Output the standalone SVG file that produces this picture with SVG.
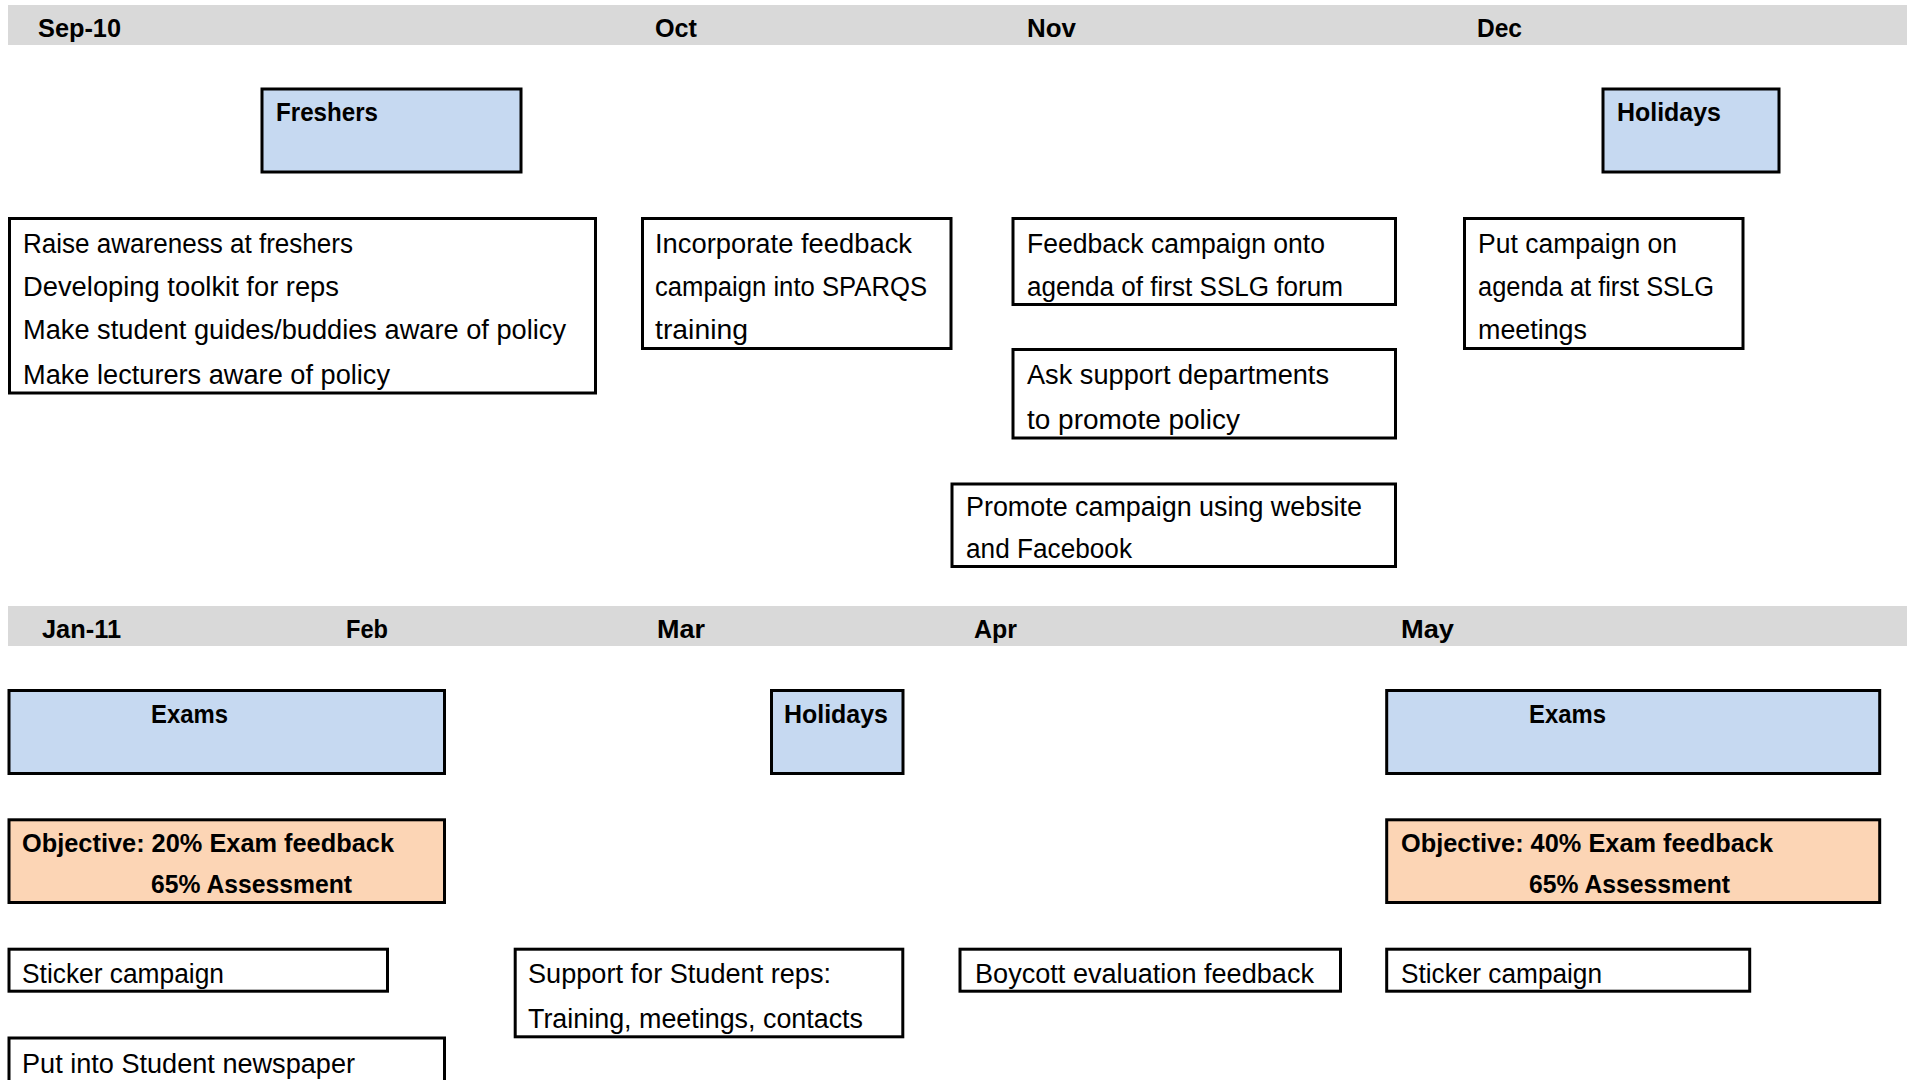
<svg xmlns="http://www.w3.org/2000/svg" width="1907" height="1080" viewBox="0 0 1907 1080">
<style>
.band{fill:#d9d9d9}
.box{fill:#ffffff;stroke:#000;stroke-width:3}
.blue{fill:#c6d9f1;stroke:#000;stroke-width:3}
.orange{fill:#fcd5b5;stroke:#000;stroke-width:3}
text{font-family:"Liberation Sans",Arial,sans-serif;fill:#000}
.t{font-size:27px}
.b{font-size:26px;font-weight:bold}
</style>
<rect width="1907" height="1080" fill="#ffffff"/>
<g id="timeline-top">
<rect class="band" x="8" y="5" width="1899" height="40"/>
<text class="b" x="38" y="37" textLength="83" lengthAdjust="spacingAndGlyphs">Sep-10</text>
<text class="b" x="655" y="37" textLength="42" lengthAdjust="spacingAndGlyphs">Oct</text>
<text class="b" x="1027" y="37" textLength="49" lengthAdjust="spacingAndGlyphs">Nov</text>
<text class="b" x="1477" y="37" textLength="45" lengthAdjust="spacingAndGlyphs">Dec</text>
</g>
<g id="timeline-bottom">
<rect class="band" x="8" y="606" width="1899" height="40"/>
<text class="b" x="42" y="638" textLength="79" lengthAdjust="spacingAndGlyphs">Jan-11</text>
<text class="b" x="346" y="638" textLength="42" lengthAdjust="spacingAndGlyphs">Feb</text>
<text class="b" x="657" y="638" textLength="48" lengthAdjust="spacingAndGlyphs">Mar</text>
<text class="b" x="974" y="638" textLength="43" lengthAdjust="spacingAndGlyphs">Apr</text>
<text class="b" x="1401" y="638" textLength="53" lengthAdjust="spacingAndGlyphs">May</text>
</g>
<g id="freshers">
<rect class="blue" x="262" y="89" width="259" height="83"/>
<text class="b" x="276" y="121" textLength="102" lengthAdjust="spacingAndGlyphs">Freshers</text>
</g>
<g id="holidays-dec">
<rect class="blue" x="1603" y="89" width="176" height="83"/>
<text class="b" x="1617" y="121" textLength="104" lengthAdjust="spacingAndGlyphs">Holidays</text>
</g>
<g id="sep-actions">
<rect class="box" x="9.5" y="218.5" width="586" height="174.5"/>
<text class="t" x="23" y="253" textLength="330" lengthAdjust="spacingAndGlyphs">Raise awareness at freshers</text>
<text class="t" x="23" y="296" textLength="316" lengthAdjust="spacingAndGlyphs">Developing toolkit for reps</text>
<text class="t" x="23" y="339" textLength="543" lengthAdjust="spacingAndGlyphs">Make student guides/buddies aware of policy</text>
<text class="t" x="23" y="384" textLength="367" lengthAdjust="spacingAndGlyphs">Make lecturers aware of policy</text>
</g>
<g id="oct-sparqs">
<rect class="box" x="642.5" y="218.5" width="308.5" height="130"/>
<text class="t" x="655" y="253" textLength="257" lengthAdjust="spacingAndGlyphs">Incorporate feedback</text>
<text class="t" x="655" y="296" textLength="272" lengthAdjust="spacingAndGlyphs">campaign into SPARQS</text>
<text class="t" x="655" y="339" textLength="93" lengthAdjust="spacingAndGlyphs">training</text>
</g>
<g id="nov-sslg-forum">
<rect class="box" x="1013" y="218.5" width="382.5" height="86"/>
<text class="t" x="1027" y="253" textLength="298" lengthAdjust="spacingAndGlyphs">Feedback campaign onto</text>
<text class="t" x="1027" y="296" textLength="316" lengthAdjust="spacingAndGlyphs">agenda of first SSLG forum</text>
</g>
<g id="nov-support-depts">
<rect class="box" x="1013" y="349.5" width="382.5" height="88.5"/>
<text class="t" x="1027" y="384" textLength="302" lengthAdjust="spacingAndGlyphs">Ask support departments</text>
<text class="t" x="1027" y="429" textLength="213" lengthAdjust="spacingAndGlyphs">to promote policy</text>
</g>
<g id="nov-website">
<rect class="box" x="952" y="484" width="443.5" height="82.5"/>
<text class="t" x="966" y="516" textLength="396" lengthAdjust="spacingAndGlyphs">Promote campaign using website</text>
<text class="t" x="966" y="558" textLength="166" lengthAdjust="spacingAndGlyphs">and Facebook</text>
</g>
<g id="dec-sslg-meetings">
<rect class="box" x="1464.5" y="218.5" width="278.5" height="130"/>
<text class="t" x="1478" y="253" textLength="199" lengthAdjust="spacingAndGlyphs">Put campaign on</text>
<text class="t" x="1478" y="296" textLength="236" lengthAdjust="spacingAndGlyphs">agenda at first SSLG</text>
<text class="t" x="1478" y="339" textLength="109" lengthAdjust="spacingAndGlyphs">meetings</text>
</g>
<g id="exams-jan">
<rect class="blue" x="9" y="690.5" width="435.5" height="83"/>
<text class="b" x="151" y="723" textLength="77" lengthAdjust="spacingAndGlyphs">Exams</text>
</g>
<g id="holidays-mar">
<rect class="blue" x="771.5" y="690.5" width="131.5" height="83"/>
<text class="b" x="784" y="723" textLength="104" lengthAdjust="spacingAndGlyphs">Holidays</text>
</g>
<g id="exams-may">
<rect class="blue" x="1386.7" y="690.5" width="493" height="83"/>
<text class="b" x="1529" y="723" textLength="77" lengthAdjust="spacingAndGlyphs">Exams</text>
</g>
<g id="objective-jan">
<rect class="orange" x="9" y="819.8" width="435.5" height="82.7"/>
<text class="b" x="22" y="852" textLength="372" lengthAdjust="spacingAndGlyphs">Objective: 20% Exam feedback</text>
<text class="b" x="151" y="893" textLength="201" lengthAdjust="spacingAndGlyphs">65% Assessment</text>
</g>
<g id="objective-may">
<rect class="orange" x="1386.7" y="819.8" width="493" height="82.7"/>
<text class="b" x="1401" y="852" textLength="372" lengthAdjust="spacingAndGlyphs">Objective: 40% Exam feedback</text>
<text class="b" x="1529" y="893" textLength="201" lengthAdjust="spacingAndGlyphs">65% Assessment</text>
</g>
<g id="sticker-jan">
<rect class="box" x="9" y="949.2" width="378.5" height="42"/>
<text class="t" x="22" y="983" textLength="202" lengthAdjust="spacingAndGlyphs">Sticker campaign</text>
</g>
<g id="student-reps">
<rect class="box" x="515.2" y="949.2" width="387.6" height="87.6"/>
<text class="t" x="528" y="983" textLength="303" lengthAdjust="spacingAndGlyphs">Support for Student reps:</text>
<text class="t" x="528" y="1028" textLength="335" lengthAdjust="spacingAndGlyphs">Training, meetings, contacts</text>
</g>
<g id="boycott">
<rect class="box" x="960" y="949.2" width="380.5" height="42"/>
<text class="t" x="975" y="983" textLength="339" lengthAdjust="spacingAndGlyphs">Boycott evaluation feedback</text>
</g>
<g id="sticker-may">
<rect class="box" x="1386.7" y="949.2" width="363" height="42"/>
<text class="t" x="1401" y="983" textLength="201" lengthAdjust="spacingAndGlyphs">Sticker campaign</text>
</g>
<g id="newspaper">
<rect class="box" x="9" y="1038" width="435.5" height="60"/>
<text class="t" x="22" y="1073" textLength="333" lengthAdjust="spacingAndGlyphs">Put into Student newspaper</text>
</g>
<g id="connectors"></g>
</svg>
